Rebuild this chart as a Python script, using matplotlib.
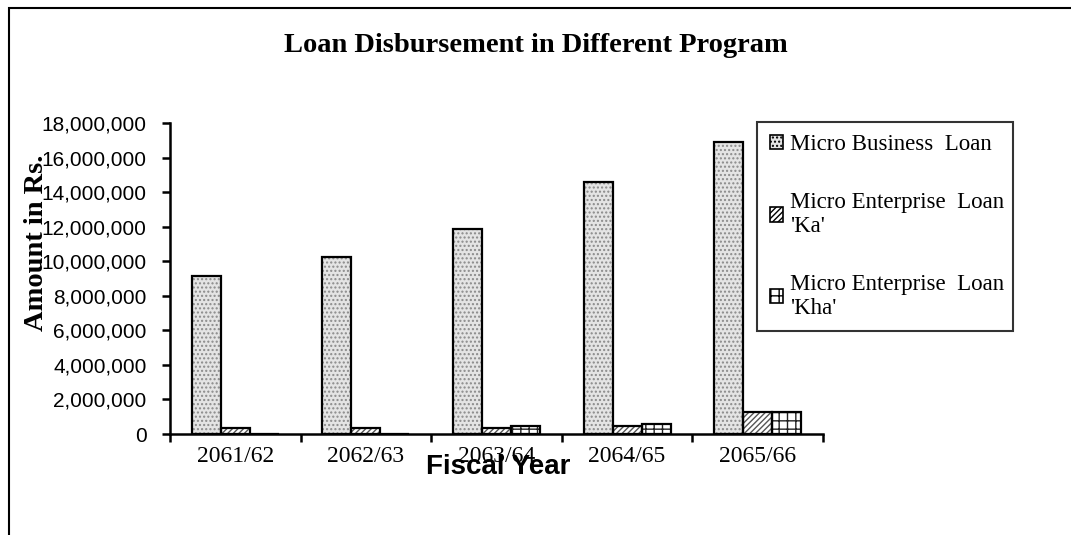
import matplotlib
matplotlib.use("Agg")
import matplotlib.pyplot as plt
import numpy as np
from matplotlib.patches import Rectangle, Patch
from matplotlib.ticker import FuncFormatter, FixedLocator

# Data
years = ["2061/62", "2062/63", "2063/64", "2064/65", "2065/66"]
micro_business = [9150000, 10250000, 11850000, 14600000, 16900000]
enterprise_ka = [350000, 350000, 340000, 440000, 1270000]
enterprise_kha = [0, 0, 470000, 590000, 1270000]
series_labels = ["Micro Business  Loan",
                 "Micro Enterprise  Loan\n'Ka'",
                 "Micro Enterprise  Loan\n'Kha'"]

W, H = 1071, 535
fig = plt.figure(figsize=(W / 100, H / 100), dpi=100)
fig.patch.set_facecolor("white")

# outer chart frame (runs past the right and bottom edges)
fig.add_artist(Rectangle((9 / W, -0.05), 1.1, 1 - 8 / H + 0.05,
                         transform=fig.transFigure, fill=False,
                         edgecolor="black", linewidth=1.5))

ax = fig.add_axes([170 / W, 1 - 434 / H, (823 - 170) / W, (434 - 123) / H])
ax.set_facecolor("none")

x = np.arange(len(years))
bw = 0.222
serif = "Liberation Serif"
sans = "Liberation Sans"

styles = [
    dict(face="#e4e4e4", hatch="....", hcol="#8a8a8a"),
    dict(face="white", hatch="//////", hcol="#555555"),
    dict(face="white", hatch="++", hcol="#222222"),
]
series = [micro_business, enterprise_ka, enterprise_kha]
for i, (vals, st) in enumerate(zip(series, styles)):
    pos = x + (i - 1) * bw
    ax.bar(pos, vals, bw, color=st["face"], hatch=st["hatch"],
           edgecolor=st["hcol"], linewidth=0, zorder=2)
    ax.bar(pos, vals, bw, fill=False, edgecolor="black",
           linewidth=1.6, zorder=3)

ax.set_xlim(-0.5, len(years) - 0.5)
ax.set_ylim(0, 18000000)
ax.yaxis.set_major_locator(FixedLocator(np.arange(0, 18000001, 2000000)))
ax.yaxis.set_major_formatter(FuncFormatter(lambda v, p: f"{int(v):,}"))

ax.xaxis.set_major_locator(FixedLocator(np.arange(-0.5, len(years), 1.0)))
ax.xaxis.set_major_formatter(FuncFormatter(lambda v, p: ""))
ax.xaxis.set_minor_locator(FixedLocator(x))
ax.set_xticklabels(years, minor=True)

for s in ["top", "right"]:
    ax.spines[s].set_visible(False)
for s in ["left", "bottom"]:
    ax.spines[s].set_linewidth(1.8)
    ax.spines[s].set_zorder(4)

ax.tick_params(axis="y", which="major", direction="out", length=6, width=1.8,
               labelsize=15, pad=11)
ax.tick_params(axis="x", which="major", direction="out", length=6, width=1.8)
ax.tick_params(axis="x", which="minor", length=0, labelsize=17, pad=9)
for t in ax.get_yticklabels():
    t.set_fontfamily(sans)
for t in ax.get_xticklabels(minor=True):
    t.set_fontfamily(serif)

# titles
fig.text(536 / W, 1 - 52 / H, "Loan Disbursement in Different Program",
         ha="center", va="baseline", fontsize=20.5, fontweight="bold",
         fontfamily=serif)
fig.text(37 / W, 1 - 243 / H, "Amount in Rs.", rotation=90,
         ha="center", va="center", fontsize=20.5, fontweight="bold",
         fontfamily=serif)
fig.text(498 / W, 1 - 467 / H, "Fiscal Year", ha="center", va="center",
         fontsize=20, fontweight="bold", fontfamily=sans)

# legend
handles = [Patch(facecolor=st["face"], hatch=st["hatch"], edgecolor="black",
                 linewidth=1.2) for st in styles]
leg = fig.legend(handles, series_labels,
                 bbox_to_anchor=(757 / W, 1 - 329 / H, (1013 - 757) / W,
                                 (329 - 124) / H),
                 loc="center", mode="expand", frameon=True, fancybox=False,
                 prop={"family": serif, "size": 16.5},
                 handlelength=0.6, handleheight=0.6, handletextpad=0.3,
                 labelspacing=1.6, borderpad=0.55, borderaxespad=0)
leg.get_frame().set_edgecolor("black")
leg.get_frame().set_linewidth(1.5)

fig.savefig("out.png", dpi=100, facecolor="white")
